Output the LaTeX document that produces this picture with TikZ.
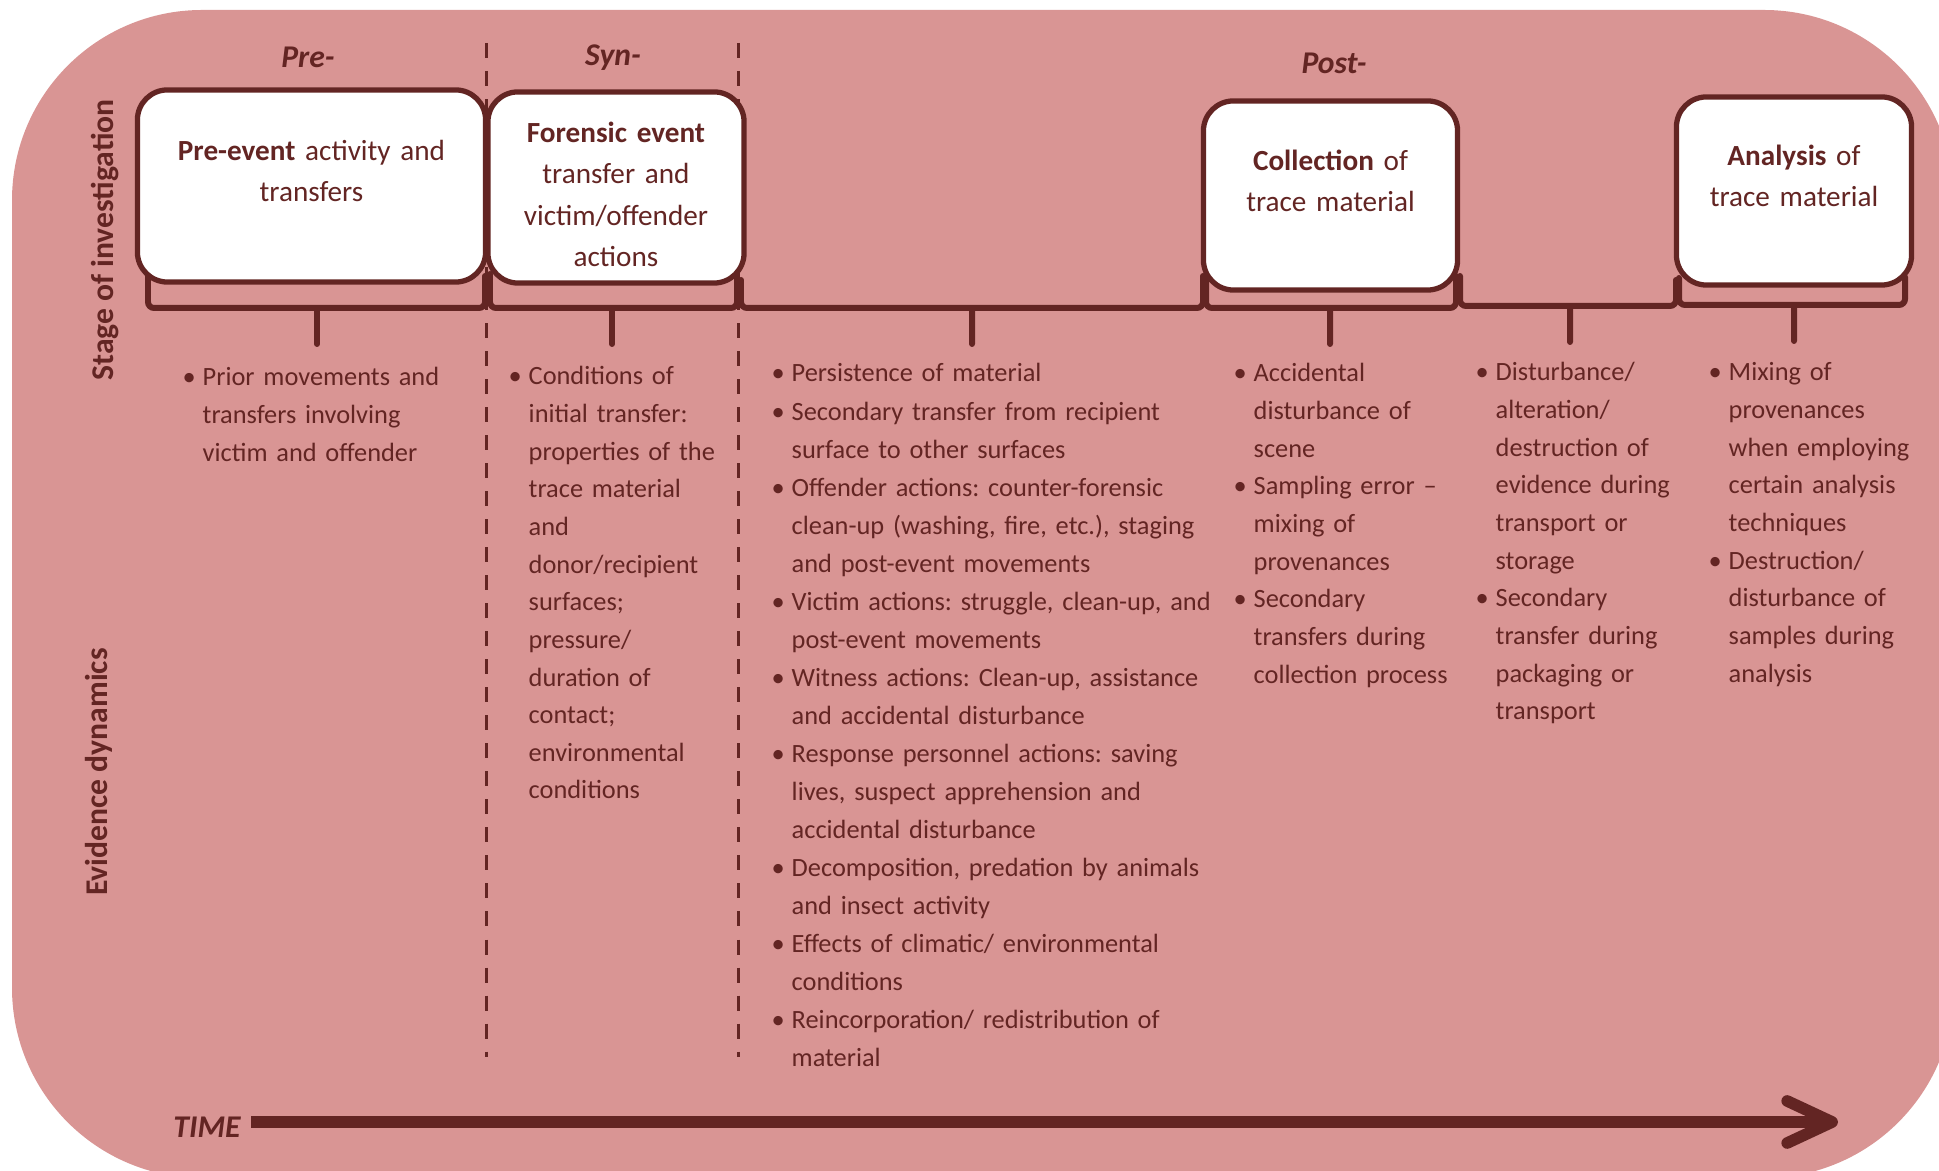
\documentclass[tikz,border=0pt]{standalone}
\usepackage{fontspec}
\setmainfont{Carlito}
\frenchspacing
\usetikzlibrary{arrows.meta}
\definecolor{rosebg}{HTML}{D99594}
\definecolor{maroon}{HTML}{632523}
\newcommand{\evb}{\leavevmode\llap{\textbullet\hspace{0.07cm}}}

\begin{document}
\begin{tikzpicture}[x=0.01cm,y=-0.01cm,color=maroon]

        \useasboundingbox (0,0) rectangle (1939,1171);
        \fill[rosebg,rounded corners=1.9cm] (12,10) rectangle (1954,1178);

        \begin{scope}[line width=0.85pt,dash pattern=on 0.15cm off 0.13cm]
          \draw (486,43) -- (486,1057);
          \draw (738,43) -- (738,1057);
        \end{scope}

        \begin{scope}[line width=1.7pt,line cap=round,rounded corners=0.06cm]
          \draw (148,276)  |- (317,308)  -| (485,276)  (317,308)  -- (317,344);
          \draw (490,274)  |- (612,308)  -| (737,277)  (612,308)  -- (612,344);
          \draw (741,280)  |- (972,308)  -| (1203,276) (972,308)  -- (972,344);
          \draw (1206,276) |- (1330,308) -| (1456,276) (1330,308) -- (1330,344);
          \draw (1460,276) |- (1570,306) -| (1676,280) (1570,306) -- (1570,342);
          \draw (1679,278) |- (1794,305) -| (1905,277) (1794,305) -- (1794,341);
        \end{scope}

        \begin{scope}[every node/.style={draw,fill=white,rounded corners=0.3cm,line width=1.5pt,
            inner sep=0pt,align=center,font=\fontsize{8.3}{11.8}\selectfont}]
          \node[text width=3.48cm,text height=0.705cm,text depth=1.215cm] (pre)  at (311.5,186)  {\textbf{Pre-event} activity and\\transfers};
          \node[text width=2.56cm,text height=0.505cm,text depth=1.405cm] (syn)  at (616,187.5)   {\textbf{Forensic event}\\transfer and\\victim/offender\\actions};
          \node[text width=2.54cm,text height=0.695cm,text depth=1.195cm] (coll) at (1330.5,195.5) {\textbf{Collection} of\\trace material};
          \node[text width=2.35cm,text height=0.685cm,text depth=1.195cm] (anal) at (1794,191)     {\textbf{Analysis} of\\trace material};
        \end{scope}

        \begin{scope}[every node/.style={anchor=base,font=\fontsize{9}{11}\selectfont\bfseries\itshape}]
          \node (prelabel)  at (308,68)  {Pre-};
          \node (synlabel)  at (613,66)  {Syn-};
          \node (postlabel) at (1334,74) {Post-};
        \end{scope}

        \begin{scope}[every node/.style={anchor=base,rotate=90,font=\fontsize{9}{11}\selectfont\bfseries}]
          \node (stage) at (113,240) {Stage of investigation};
          \node (dyn)   at (107,772) {Evidence dynamics};
        \end{scope}

        \begin{scope}[every node/.style={anchor=base west,align=left,text width=4.3cm,inner sep=0pt,
            font=\fontsize{7.5}{10.7}\selectfont}]
          \node (prelist) at (202,386) {\evb Prior movements and\\
            transfers involving\\
            victim and offender};
          \node (synlist) at (528,385) {\evb Conditions of\\
            initial transfer:\\
            properties of the\\
            trace material\\
            and\\
            donor/recipient\\
            surfaces;\\
            pressure/\\
            duration of\\
            contact;\\
            environmental\\
            conditions};
          \node[font=\fontsize{7.5}{10.82}\selectfont] (postlist) at (791,382) {\evb Persistence of material\\
            \evb Secondary transfer from recipient\\
            surface to other surfaces\\
            \evb Offender actions: counter-forensic\\
            clean-up (washing, fire, etc.), staging\\
            and post-event movements\\
            \evb Victim actions: struggle, clean-up, and\\
            post-event movements\\
            \evb Witness actions: Clean-up, assistance\\
            and accidental disturbance\\
            \evb Response personnel actions: saving\\
            lives, suspect apprehension and\\
            accidental disturbance\\
            \evb Decomposition, predation by animals\\
            and insect activity\\
            \evb Effects of climatic/ environmental\\
            conditions\\
            \evb Reincorporation/ redistribution of\\
            material};
          \node (colllist) at (1253,382) {\evb Accidental\\
            disturbance of\\
            scene\\
            \evb Sampling error –\\
            mixing of\\
            provenances\\
            \evb Secondary\\
            transfers during\\
            collection process};
          \node (storlist) at (1495,381) {\evb Disturbance/\\
            alteration/\\
            destruction of\\
            evidence during\\
            transport or\\
            storage\\
            \evb Secondary\\
            transfer during\\
            packaging or\\
            transport};
          \node (anallist) at (1728,381) {\evb Mixing of\\
            provenances\\
            when employing\\
            certain analysis\\
            techniques\\
            \evb Destruction/\\
            disturbance of\\
            samples during\\
            analysis};
        \end{scope}

        \node[anchor=base,inner xsep=0.1cm,font=\fontsize{9}{11}\selectfont\bfseries\itshape] (time) at (207,1138) {TIME};
        \coordinate (timeend) at (1838,1122);
        \draw[line width=3.3pt,-{Straight Barb[length=0.45cm,width=0.42cm,round]}] (time.east |- timeend) -- (timeend);

      \end{tikzpicture}
\end{document}
